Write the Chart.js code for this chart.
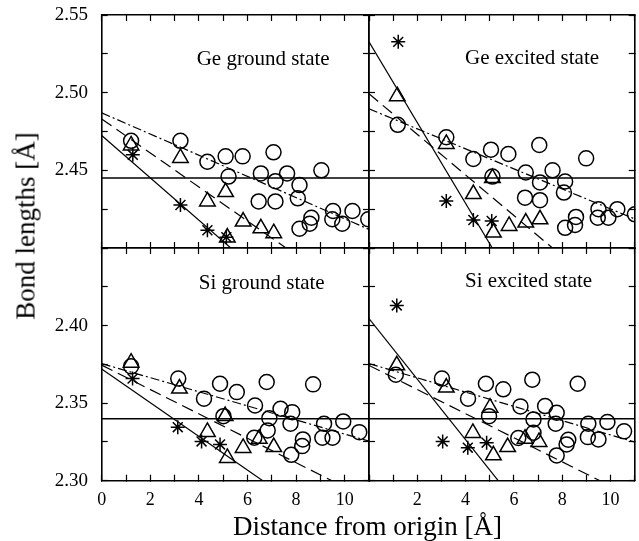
<!DOCTYPE html>
<html>
<head>
<meta charset="utf-8">
<script src="https://cdn.jsdelivr.net/npm/chart.js@4.4.1/dist/chart.umd.min.js"></script>
<style>
  html, body { margin: 0; padding: 0; background: #fff; overflow: hidden; }
  #fig { position: relative; width: 639px; height: 541px; overflow: hidden; }
  #fig canvas { position: absolute; left: 0; top: 0; }
  .ttl { position: absolute; font-family: 'Liberation Serif', 'Times New Roman', serif; font-size: 27px; line-height: 27px; white-space: nowrap; color: #000; }
  #xTitle { left: 367.5px; top: 513px; transform: translateX(-50%); }
  #yTitle { left: 26px; top: 226px; transform: translate(-50%, -50%) rotate(-90deg); }
</style>
</head>
<body>
<div id="fig">
  <canvas id="geGround" width="639" height="541"></canvas>
  <canvas id="geExcited" width="639" height="541"></canvas>
  <canvas id="siGround" width="639" height="541"></canvas>
  <canvas id="siExcited" width="639" height="541"></canvas>
  <div class="ttl" id="xTitle">Distance from origin [Å]</div>
  <div class="ttl" id="yTitle">Bond lengths [Å]</div>
</div>
<script>
// tick labels
const topYTicks = ['2.45', '2.50', '2.55'];
const bottomYTicks = ['2.30', '2.35', '2.40'];
const leftXTicks = ['0', '2', '4', '6', '8', '10'];
const rightXTicks = ['2', '4', '6', '8', '10'];

// x ends of the fitted lines
const fitX = [0, 11];

// Ge ground state
const geGroundCircleX = [1.21, 3.24, 4.35, 5.10, 5.22, 5.80, 6.46, 6.55, 7.07, 7.15, 7.15, 7.63, 8.07, 8.14, 8.14, 8.56, 8.63, 9.04, 9.49, 9.52, 9.90, 10.32, 10.97];
const geGroundCircleY = [2.469, 2.469, 2.4555, 2.459, 2.446, 2.459, 2.430, 2.448, 2.4616, 2.443, 2.430, 2.448, 2.432, 2.4405, 2.4124, 2.4156, 2.4195, 2.450, 2.4185, 2.4238, 2.4156, 2.4238, 2.4185];
const geGroundTriX = [1.21, 3.24, 4.35, 5.10, 5.17, 5.82, 6.55, 7.08];
const geGroundTriY = [2.466, 2.458, 2.430, 2.436, 2.4067, 2.417, 2.4127, 2.4095];
const geGroundStarX = [1.28, 3.24, 4.35, 5.13];
const geGroundStarY = [2.460, 2.4277, 2.4114, 2.407];
const geGroundSolid = [2.4724, 2.3225];
const geGroundDash = [2.4831, 2.3626];
const geGroundDashDot = [2.487, 2.412];
const geRef = [2.445, 2.445];

// Ge excited state
const geExcitedCircleX = [1.19, 3.20, 4.32, 5.05, 5.11, 5.77, 6.46, 6.49, 7.05, 7.08, 7.08, 7.60, 8.07, 8.12, 8.12, 8.53, 8.57, 8.99, 9.47, 9.50, 9.91, 10.28, 11.01];
const geExcitedCircleY = [2.4793, 2.4713, 2.4573, 2.4633, 2.446, 2.4605, 2.4324, 2.4486, 2.4663, 2.4422, 2.4308, 2.450, 2.4357, 2.4428, 2.413, 2.4148, 2.420, 2.4577, 2.4195, 2.425, 2.4195, 2.425, 2.4217];
const geExcitedTriX = [1.17, 3.20, 4.32, 5.11, 5.15, 5.80, 6.49, 7.08];
const geExcitedTriY = [2.4977, 2.467, 2.4347, 2.445, 2.4099, 2.4142, 2.4164, 2.4185];
const geExcitedStarX = [1.21, 3.20, 4.32, 5.08];
const geExcitedStarY = [2.5327, 2.4303, 2.418, 2.4174];
const geExcitedSolid = [2.5327, 2.2467];
const geExcitedDash = [2.4993, 2.3555];
const geExcitedDashDot = [2.4896, 2.4187];

// Si ground state
const siGroundCircleX = [1.21, 3.15, 4.21, 4.87, 5.01, 5.56, 6.28, 6.31, 6.79, 6.83, 6.90, 7.36, 7.77, 7.80, 7.84, 8.25, 8.28, 8.70, 9.08, 9.15, 9.50, 9.94, 10.60];
const siGroundCircleY = [2.3737, 2.3658, 2.3529, 2.3625, 2.3416, 2.3571, 2.3277, 2.3485, 2.3636, 2.3324, 2.3403, 2.3464, 2.3367, 2.3167, 2.3442, 2.3223, 2.3266, 2.3621, 2.3277, 2.3367, 2.3277, 2.3382, 2.3313];
const siGroundTriX = [1.21, 3.20, 4.35, 5.08, 5.17, 5.82, 6.48, 7.08];
const siGroundTriY = [2.3761, 2.3594, 2.3314, 2.3417, 2.3147, 2.3211, 2.3271, 2.3217];
const siGroundStarX = [1.27, 3.13, 4.11, 4.87];
const siGroundStarY = [2.3658, 2.3345, 2.3253, 2.3234];
const siGroundSolid = [2.372, 2.2525];
const siGroundDash = [2.3745, 2.288];
const siGroundDashDot = [2.3755, 2.3255];
const siRef = [2.34, 2.34];

// Si excited state
const siExcitedCircleX = [1.11, 3.02, 4.10, 4.84, 4.97, 5.56, 6.18, 6.27, 6.76, 6.81, 6.81, 7.29, 7.73, 7.77, 7.77, 8.18, 8.25, 8.64, 9.06, 9.08, 9.50, 9.87, 10.56];
const siExcitedCircleY = [2.3683, 2.3658, 2.3529, 2.3625, 2.3416, 2.3589, 2.3275, 2.3479, 2.3651, 2.3309, 2.3395, 2.3481, 2.3367, 2.3163, 2.3438, 2.3234, 2.3264, 2.3625, 2.3281, 2.3367, 2.3266, 2.3378, 2.3318];
const siExcitedTriX = [1.15, 3.20, 4.30, 5.01, 5.15, 5.74, 6.46, 7.04];
const siExcitedTriY = [2.3744, 2.360, 2.3308, 2.3471, 2.3164, 2.3217, 2.3271, 2.325];
const siExcitedStarX = [1.15, 3.05, 4.09, 4.87];
const siExcitedStarY = [2.413, 2.3253, 2.3213, 2.3245];
const siExcitedSolid = [2.4045, 2.1897];
const siExcitedDash = [2.3743, 2.2888];
const siExcitedDashDot = [2.3755, 2.3249];

const serif = "'Liberation Serif', 'Times New Roman', serif";

function pts(xs, ys) {
    return xs.map((x, i) => ({ x: x, y: ys[i] }));
}

// text label inside each panel
const panelLabel = {
    id: 'panelLabel',
    afterDraw(chart, args, o) {
        const { ctx, chartArea } = chart;
        ctx.save();
        ctx.font = '21px ' + serif;
        ctx.fillStyle = '#000';
        ctx.textBaseline = 'alphabetic';
        ctx.fillText(o.text, chartArea.left + o.dx, chartArea.top + o.dy);
        ctx.restore();
    }
};

// size = fixed width (y) or height (x) of the scale box, labels live inside it
function axis(pos, min, max, step, labels, size, fontSize, pad) {
    const horiz = pos === 'top' || pos === 'bottom';
    return {
        type: 'linear',
        position: pos,
        min: min,
        max: max,
        afterFit: s => {
            if (horiz) s.height = size || 0; else s.width = size || 0;
            s.paddingLeft = s.paddingRight = s.paddingTop = s.paddingBottom = 0;
        },
        ticks: {
            stepSize: step,
            autoSkip: false,
            maxRotation: 0,
            display: !!labels,
            padding: pad || 0,
            color: '#000',
            font: { family: serif, size: fontSize || 18 },
            callback: v => {
                if (!labels) return '';
                const s = horiz ? String(v) : v.toFixed(2);
                return labels.includes(s) ? s : '';
            }
        },
        grid: {
            drawOnChartArea: false,
            drawTicks: true,
            tickLength: -6,
            tickWidth: 1.2,
            color: '#000'
        },
        border: { display: true, color: '#000', width: 1.6 }
    };
}

function marks(data, style, r) {
    return {
        data: data,
        pointStyle: style,
        pointRadius: r,
        pointBorderWidth: 1.5,
        pointBorderColor: '#000',
        pointBackgroundColor: 'rgba(0,0,0,0)',
        showLine: false,
        clip: 0
    };
}

function fitLine(ys, dash, w) {
    return {
        data: pts(fitX, ys),
        showLine: true,
        borderColor: '#000',
        borderWidth: w || 1.2,
        borderDash: dash,
        pointRadius: 0,
        clip: 0
    };
}

function panel(id, p) {
    new Chart(document.getElementById(id), {
        type: 'scatter',
        data: {
            datasets: [
                marks(pts(p.circleX, p.circleY), 'circle', 7.5),
                marks(pts(p.triX, p.triY), 'triangle', 9),
                marks(pts(p.starX, p.starY), 'star', 7),
                fitLine(p.solid, []),
                fitLine(p.dash, [12, 6]),
                fitLine(p.dashDot, [9, 3, 2, 3]),
                fitLine(p.ref, [], 1.5)
            ]
        },
        options: {
            responsive: false,
            animation: false,
            devicePixelRatio: 1,
            layout: { padding: p.pad, autoPadding: false },
            plugins: {
                legend: { display: false },
                tooltip: { enabled: false },
                panelLabel: { text: p.title, dx: p.dx, dy: p.dy }
            },
            scales: {
                x: axis('bottom', 0, 11, 1, p.xTicks, p.xSize, 18, 14.5),
                x2: axis('top', 0, 11, 1, null, 0),
                y: axis('left', p.yMin, p.yMax, 0.025, p.yTicks, p.ySize, 19, 19.7),
                y2: axis('right', p.yMin, p.yMax, 0.025, null, 0)
            }
        },
        plugins: [panelLabel]
    });
}

panel('geGround', {
    title: 'Ge ground state', dx: 95, dy: 50,
    pad: { left: 0, top: 15, right: 270, bottom: 293 }, ySize: 101.7, xSize: 0,
    yMin: 2.40, yMax: 2.55, yTicks: topYTicks, xTicks: null,
    circleX: geGroundCircleX, circleY: geGroundCircleY,
    triX: geGroundTriX, triY: geGroundTriY,
    starX: geGroundStarX, starY: geGroundStarY,
    solid: geGroundSolid, dash: geGroundDash, dashDot: geGroundDashDot, ref: geRef
});

panel('geExcited', {
    title: 'Ge excited state', dx: 96, dy: 49,
    pad: { left: 369, top: 15, right: 4.3, bottom: 293 }, ySize: 0, xSize: 0,
    yMin: 2.40, yMax: 2.55, yTicks: null, xTicks: null,
    circleX: geExcitedCircleX, circleY: geExcitedCircleY,
    triX: geExcitedTriX, triY: geExcitedTriY,
    starX: geExcitedStarX, starY: geExcitedStarY,
    solid: geExcitedSolid, dash: geExcitedDash, dashDot: geExcitedDashDot, ref: geRef
});

panel('siGround', {
    title: 'Si ground state', dx: 97, dy: 41,
    pad: { left: 0, top: 248, right: 270, bottom: 0 }, ySize: 101.7, xSize: 60.3,
    yMin: 2.30, yMax: 2.45, yTicks: bottomYTicks, xTicks: leftXTicks,
    circleX: siGroundCircleX, circleY: siGroundCircleY,
    triX: siGroundTriX, triY: siGroundTriY,
    starX: siGroundStarX, starY: siGroundStarY,
    solid: siGroundSolid, dash: siGroundDash, dashDot: siGroundDashDot, ref: siRef
});

panel('siExcited', {
    title: 'Si excited state', dx: 96, dy: 39,
    pad: { left: 369, top: 248, right: 4.3, bottom: 0 }, ySize: 0, xSize: 60.3,
    yMin: 2.30, yMax: 2.45, yTicks: null, xTicks: rightXTicks,
    circleX: siExcitedCircleX, circleY: siExcitedCircleY,
    triX: siExcitedTriX, triY: siExcitedTriY,
    starX: siExcitedStarX, starY: siExcitedStarY,
    solid: siExcitedSolid, dash: siExcitedDash, dashDot: siExcitedDashDot, ref: siRef
});
</script>
</body>
</html>
